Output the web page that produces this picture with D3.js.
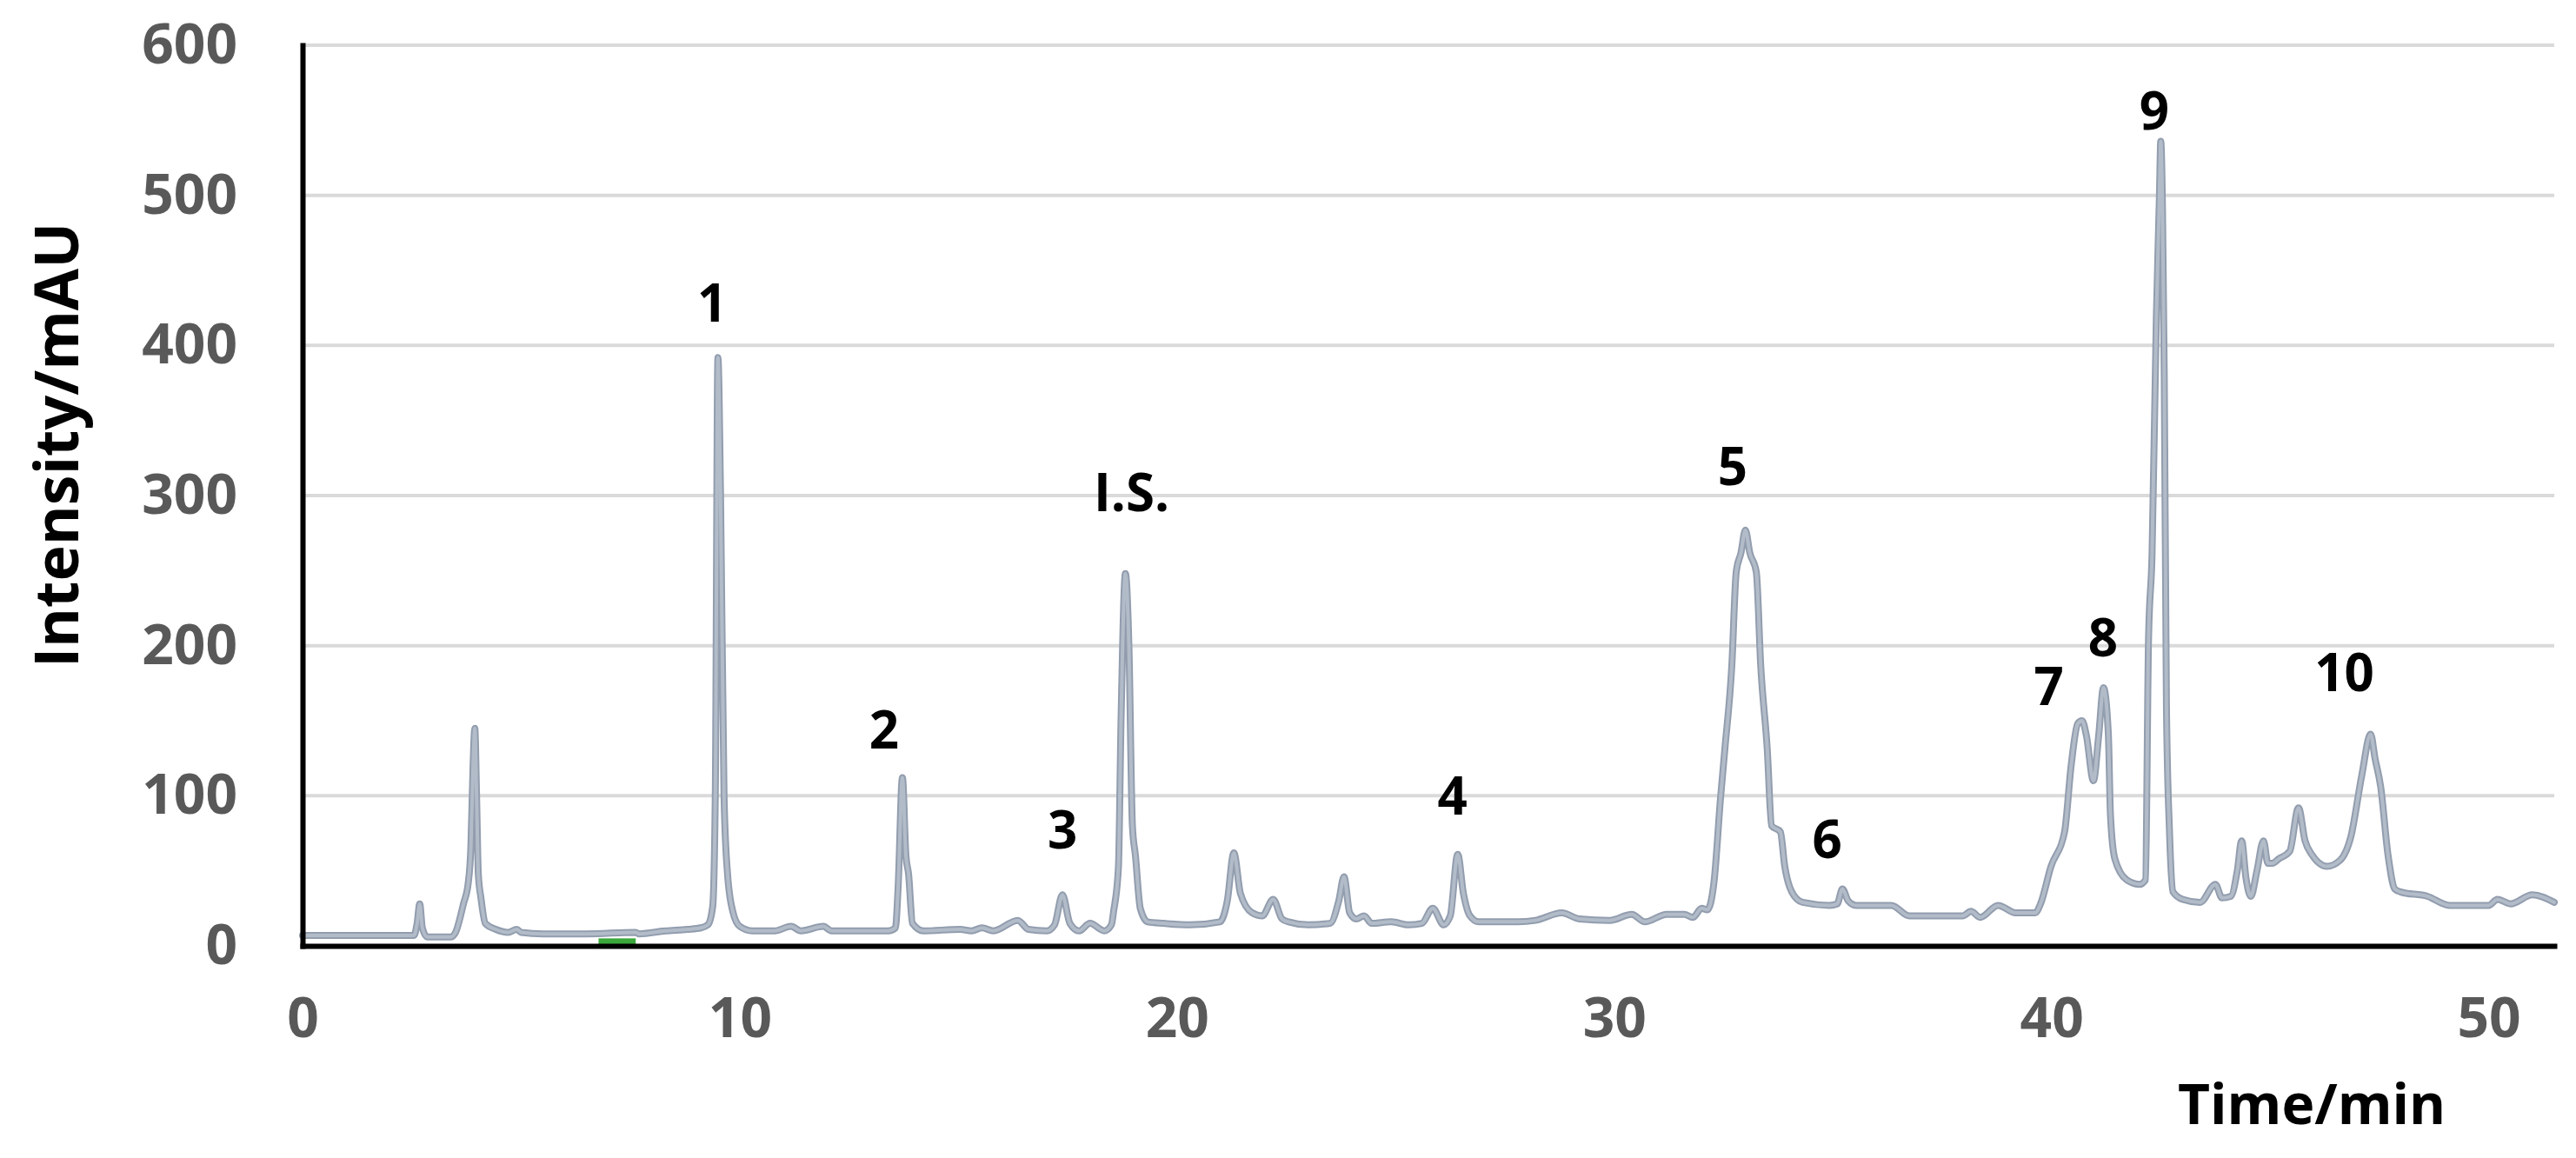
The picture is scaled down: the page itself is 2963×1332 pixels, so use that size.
<!DOCTYPE html>
<html>
<head>
<meta charset="utf-8">
<script src="https://cdn.jsdelivr.net/npm/d3@7"></script>
<style>
  html, body { margin: 0; padding: 0; background: #ffffff; }
  svg { display: block; }
  text { font-family: "Open Sans", "Noto Sans", sans-serif; }
</style>
</head>
<body>
<svg id="chart" width="2963" height="1332"></svg>
<script>
// ---- data ----
const times = [
  0.0, 2.55, 2.62, 2.68, 2.74, 2.85, 3.4, 3.5, 3.68, 3.79, 3.85, 3.9, 3.94, 3.98, 4.02, 4.08, 4.18, 4.42, 4.7, 4.9,
  5.0, 5.5, 6.5, 7.62, 7.7, 8.3, 8.8, 9.11, 9.27, 9.38, 9.44, 9.5, 9.56, 9.64, 9.72, 9.84, 10.0, 10.29, 10.8, 11.17,
  11.4, 11.91, 12.1, 13.39, 13.56, 13.62, 13.72, 13.8, 13.86, 13.95, 14.2, 15.04, 15.3, 15.54, 15.8, 16.36, 16.6, 17.02, 17.2, 17.38,
  17.55, 17.76, 18.01, 18.34, 18.5, 18.55, 18.66, 18.72, 18.82, 18.9, 18.98, 19.05, 19.16, 19.33, 19.7, 20.3, 20.98, 21.15, 21.3, 21.45,
  21.72, 21.95, 22.2, 22.4, 22.55, 23.0, 23.5, 23.7, 23.82, 23.95, 24.1, 24.28, 24.45, 24.9, 25.3, 25.6, 25.85, 26.1, 26.25, 26.42,
  26.55, 26.7, 26.9, 27.8, 28.2, 28.8, 29.2, 29.9, 30.4, 30.7, 31.2, 31.6, 31.8, 32.0, 32.13, 32.28, 32.43, 32.53, 32.69, 32.79,
  32.9, 33.0, 33.1, 33.25, 33.35, 33.5, 33.6, 33.8, 33.9, 34.06, 34.31, 34.92, 35.1, 35.22, 35.35, 35.53, 36.34, 36.75, 37.97, 38.16,
  38.37, 38.78, 39.18, 39.63, 39.75, 39.99, 40.3, 40.45, 40.6, 40.7, 40.8, 40.96, 41.08, 41.19, 41.3, 41.35, 41.45, 41.72, 42.02, 42.15,
  42.22, 42.3, 42.4, 42.47, 42.5, 42.54, 42.58, 42.63, 42.7, 42.78, 43.0, 43.4, 43.75, 43.9, 44.1, 44.25, 44.35, 44.45, 44.56, 44.7,
  44.85, 44.95, 45.05, 45.2, 45.45, 45.65, 45.8, 45.95, 46.3, 46.6, 46.85, 47.1, 47.3, 47.4, 47.53, 47.7, 47.85, 47.98, 48.6, 49.1,
  50.0, 50.2, 50.5, 51.0, 51.5
];
const intensity = [
  7, 7, 15, 28, 12, 6, 6, 9, 28, 42, 66, 120, 145, 100, 48, 32, 15, 11, 9, 11,
  9, 8, 8, 9, 8, 10, 11, 12, 14, 26, 100, 392, 300, 100, 48, 23, 13, 10, 10, 13,
  10, 13, 10, 10, 12, 38, 112, 60, 48, 15, 10, 11, 10, 12, 10, 17, 11, 10, 14, 34,
  15, 10, 15, 10, 14, 23, 52, 150, 248, 200, 80, 60, 25, 16, 15, 14, 16, 30, 62, 35,
  22, 20, 31, 18, 16, 14, 15, 30, 46, 22, 18, 20, 15, 16, 14, 15, 25, 14, 20, 61,
  35, 20, 16, 16, 17, 22, 18, 17, 21, 16, 21, 21, 19, 25, 24, 42, 98, 131, 187, 249,
  262, 277, 262, 249, 187, 131, 80, 76, 53, 36, 29, 27, 28, 38, 30, 27, 27, 20, 20, 23,
  19, 27, 22, 22, 28, 53, 76, 120, 148, 150, 140, 110, 140, 172, 142, 87, 58, 44, 41, 44,
  204, 260, 420, 500, 536, 490, 380, 160, 76, 36, 31, 29, 41, 32, 33, 50, 70, 45, 33, 50,
  70, 55, 55, 58, 63, 92, 70, 61, 53, 57, 73, 114, 141, 125, 106, 60, 38, 36, 33, 27,
  27, 31, 28, 34, 29
];
const yTicks = [0, 100, 200, 300, 400, 500, 600];
const xTicks = [0, 10, 20, 30, 40, 50];
const xDomain = [0, 51.5];
const yDomain = [0, 600];
const peakNames = ["1", "2", "3", "I.S.", "4", "5", "6", "7", "8", "9", "10"];
const peakLabelTime = [9.37, 13.3, 17.38, 18.96, 26.3, 32.71, 34.87, 39.94, 41.18, 42.35, 46.7];
const peakLabelValue = [429, 145, 78, 303, 101, 320, 72, 174, 206, 557, 183];
const greenMark = [6.77, 7.62]; // small green marker on the baseline (minutes)
const xTitle = "Time/min";
const yTitle = "Intensity/mAU";

// ---- drawing ----
const svg = d3.select("#chart");
const x = d3.scaleLinear().domain(xDomain).range([348, 2938]);
const y = d3.scaleLinear().domain(yDomain).range([1088, 52]);

// gridlines
svg.append("g").selectAll("line")
  .data(yTicks.filter(v => v > 0))
  .join("line")
  .attr("x1", x(xDomain[0])).attr("x2", x(xDomain[1]))
  .attr("y1", d => y(d)).attr("y2", d => y(d))
  .attr("stroke", "#dadada").attr("stroke-width", 4);

// chromatogram trace
const pts = times.map((t, i) => [t, intensity[i]]);
const line = d3.line().x(d => x(d[0])).y(d => y(d[1])).curve(d3.curveMonotoneX);
svg.append("path").datum(pts)
  .attr("d", line).attr("fill", "none")
  .attr("stroke", "#929dae").attr("stroke-width", 8)
  .attr("stroke-linejoin", "round").attr("stroke-linecap", "round");
svg.append("path").datum(pts)
  .attr("d", line).attr("fill", "none")
  .attr("stroke", "#b2bcc9").attr("stroke-width", 4)
  .attr("stroke-linejoin", "round").attr("stroke-linecap", "round");

// green marker
svg.append("rect")
  .attr("x", x(greenMark[0])).attr("width", x(greenMark[1]) - x(greenMark[0]))
  .attr("y", y(5)).attr("height", y(0) - y(5))
  .attr("fill", "#3aa83a");

// axes
const yAxis = d3.axisLeft(y).tickValues(yTicks).tickSize(0).tickSizeOuter(0).tickPadding(75);
const xAxis = d3.axisBottom(x).tickValues(xTicks).tickSize(0).tickSizeOuter(0).tickPadding(60);

const gy = svg.append("g").attr("transform", `translate(${x(0)},0)`).call(yAxis);
const gx = svg.append("g").attr("transform", `translate(0,${y(0)})`).call(xAxis);
[gy, gx].forEach(g => {
  g.select(".domain").attr("stroke", "#000").attr("stroke-width", 6).attr("stroke-linecap", "square");
  g.selectAll(".tick text")
    .attr("fill", "#595959")
    .style("font-family", "'Open Sans', sans-serif")
    .style("font-weight", "700")
    .style("font-size", "64px");
});

// peak labels
svg.append("g").selectAll("text")
  .data(peakNames)
  .join("text")
  .attr("x", (d, i) => x(peakLabelTime[i]))
  .attr("y", (d, i) => y(peakLabelValue[i]))
  .attr("text-anchor", "middle")
  .attr("dominant-baseline", "central")
  .attr("fill", "#000")
  .style("font-weight", "700")
  .style("font-size", "60px")
  .text(d => d);

// axis titles
svg.append("text")
  .attr("transform", "translate(63,512) rotate(-90)")
  .attr("text-anchor", "middle")
  .attr("dominant-baseline", "central")
  .style("font-weight", "700").style("font-size", "70px")
  .attr("fill", "#000")
  .text(yTitle);

svg.append("text")
  .attr("x", 2659).attr("y", 1293)
  .attr("text-anchor", "middle")
  .style("font-weight", "700").style("font-size", "64px")
  .attr("fill", "#000")
  .text(xTitle);
</script>
</body>
</html>
